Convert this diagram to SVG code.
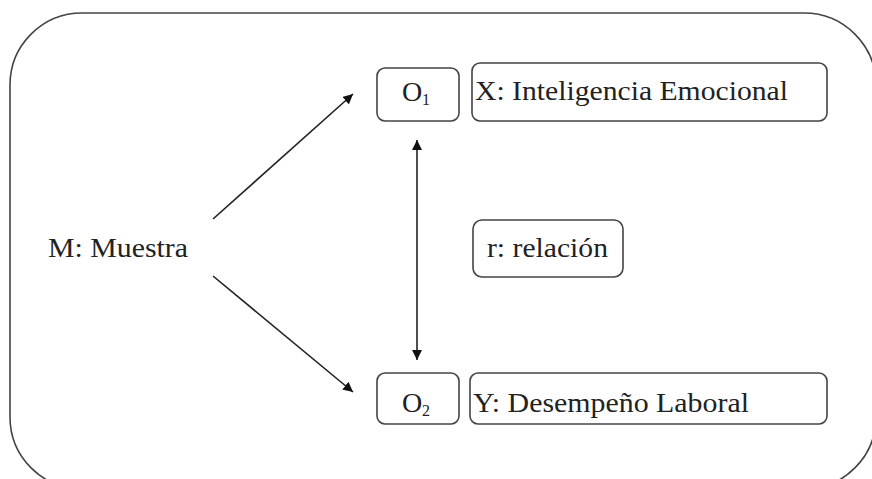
<svg xmlns="http://www.w3.org/2000/svg" width="872" height="479" viewBox="0 0 872 479">
<style>
.box{fill:#fff;stroke:#444;stroke-width:1.6}
.c{stroke:#222;stroke-width:1.6;fill:none}
</style>
<defs>
<marker id="ah" viewBox="0 0 10 10" refX="10" refY="5" markerWidth="10" markerHeight="10" markerUnits="userSpaceOnUse" orient="auto-start-reverse">
<path d="M0,0 L10,5 L0,10 z" fill="#111"/>
</marker>
</defs>
<rect width="872" height="479" fill="#fff"/>
<g id="frame"><rect x="10" y="13" width="866" height="476" rx="72" ry="72" fill="none" stroke="#444" stroke-width="1.6"/></g>
<g id="muestra"><text font-family="Liberation Serif" font-size="28" fill="#222" x="48" y="257" textLength="140" lengthAdjust="spacingAndGlyphs">M: Muestra</text></g>
<g id="o1"><rect class="box" x="377" y="68" width="82" height="53" rx="8"/><text font-family="Liberation Serif" font-size="28" fill="#222" x="416" y="101" text-anchor="middle">O<tspan font-size="16" dy="4">1</tspan></text></g>
<g id="x"><rect class="box" x="472" y="63" width="355" height="58" rx="8"/><text font-family="Liberation Serif" font-size="28" fill="#222" x="475" y="100" textLength="313" lengthAdjust="spacingAndGlyphs">X: Inteligencia Emocional</text></g>
<g id="r"><rect class="box" x="473" y="220" width="150" height="57" rx="9"/><text font-family="Liberation Serif" font-size="28" fill="#222" x="487" y="257" textLength="121" lengthAdjust="spacingAndGlyphs">r: relación</text></g>
<g id="o2"><rect class="box" x="377" y="373" width="82" height="51" rx="8"/><text font-family="Liberation Serif" font-size="28" fill="#222" x="416" y="412" text-anchor="middle">O<tspan font-size="16" dy="4">2</tspan></text></g>
<g id="y"><rect class="box" x="470" y="373" width="357" height="51" rx="8"/><text font-family="Liberation Serif" font-size="28" fill="#222" x="473" y="412" textLength="276" lengthAdjust="spacingAndGlyphs">Y: Desempeño Laboral</text></g>
<g id="connectors">
<line class="c" x1="213" y1="219" x2="353" y2="94" marker-end="url(#ah)"/>
<line class="c" x1="213" y1="276" x2="353" y2="392" marker-end="url(#ah)"/>
<line class="c" x1="417" y1="140" x2="417" y2="360" marker-start="url(#ah)" marker-end="url(#ah)"/>
</g>
</svg>
